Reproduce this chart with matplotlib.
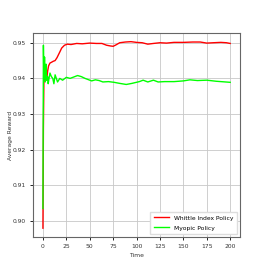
import matplotlib
matplotlib.use('Agg')
import matplotlib.pyplot as plt

# Running average reward
time_whittle = [0, 0.5, 1, 2, 3, 4, 5, 6, 7.5, 9, 11, 13, 15, 18, 20, 23, 26, 30, 36, 42, 50, 57, 63,
                68, 72, 75, 78, 82, 88, 94, 100, 106, 112, 118, 125, 132, 140, 150, 160, 168, 175,
                182, 190, 196, 200]
reward_whittle = [0.898, 0.926, 0.9385, 0.941, 0.9395, 0.9396, 0.942, 0.9435, 0.9443, 0.9445, 0.9448,
                  0.945, 0.9458, 0.9474, 0.9485, 0.9493, 0.9496, 0.9495, 0.9498, 0.9497, 0.9499,
                  0.9498, 0.9498, 0.9493, 0.9491, 0.9490, 0.9494, 0.9500, 0.9502, 0.9503, 0.9501,
                  0.9500, 0.9496, 0.9498, 0.9500, 0.9499, 0.9501, 0.9501, 0.9502, 0.9502, 0.9499,
                  0.9500, 0.9501, 0.9500, 0.9498]

time_myopic = [0, 0.5, 1, 1.7, 2.5, 3.3, 4, 5, 5.6, 6.5, 7.5, 9, 10.5, 11.7, 13, 15.6, 18, 21, 25,
               29, 34, 37, 41, 45, 48, 52, 56, 60, 64, 70, 76, 82, 89, 95, 103, 107, 112, 118, 123,
               130, 140, 150, 157, 165, 175, 185, 200]
reward_myopic = [0.9035, 0.9493, 0.9401, 0.946, 0.939, 0.944, 0.9395, 0.9405, 0.9385, 0.940, 0.9415,
                 0.9405, 0.940, 0.9385, 0.941, 0.939, 0.940, 0.9395, 0.9403, 0.940, 0.9405, 0.9408,
                 0.9405, 0.940, 0.9397, 0.9393, 0.9396, 0.9394, 0.9390, 0.9391, 0.9389, 0.9386,
                 0.9383, 0.9386, 0.9391, 0.9395, 0.9390, 0.9395, 0.9390, 0.9391, 0.9391, 0.9393,
                 0.9396, 0.9394, 0.9395, 0.9392, 0.9389]

x_ticks = [0, 25, 50, 75, 100, 125, 150, 175, 200]
y_ticks = [0.90, 0.91, 0.92, 0.93, 0.94, 0.95]

plt.rcParams['font.size'] = 4.3
fig = plt.figure(figsize=(2.67, 2.67), dpi=100)
ax = fig.add_axes([0.124, 0.112, 0.775, 0.764])

ax.plot(time_whittle, reward_whittle, color='#ff0000', lw=1.0, label='Whittle Index Policy')
ax.plot(time_myopic, reward_myopic, color='#00ff00', lw=1.0, label='Myopic Policy')

ax.set_xticks(x_ticks)
ax.set_yticks(y_ticks)
ax.set_yticklabels(['%.2f' % v for v in y_ticks])
ax.set_xlim(-10.5, 210.5)
ax.set_ylim(0.8955, 0.9527)
ax.grid(True, color='#c8c8c8', lw=0.6)
ax.tick_params(length=2.5, width=0.6, pad=2.5, labelsize=4.3, labelcolor='#333333')
for s in ax.spines.values():
    s.set_color('#666666')
    s.set_linewidth(0.8)

ax.set_xlabel('Time', fontsize=4.3, labelpad=2.5, color='#333333')
ax.set_ylabel('Average Reward', fontsize=4.3, labelpad=1, color='#333333')
ax.yaxis.set_label_coords(-0.095, 0.5)
ax.legend(loc='lower right', fontsize=4.3, handlelength=2.6, fancybox=False,
          edgecolor='#dddddd', framealpha=1.0, borderpad=0.6, labelspacing=0.8)

fig.savefig('out.png', dpi=100)
